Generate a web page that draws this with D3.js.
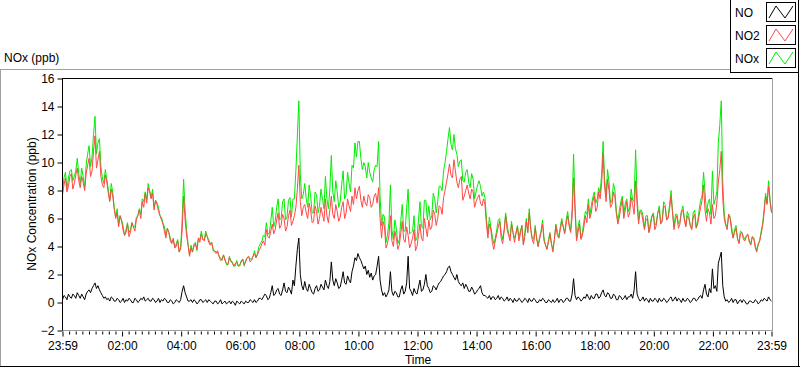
<!DOCTYPE html>
<html>
<head>
<meta charset="utf-8">
<script src="https://cdn.jsdelivr.net/npm/d3@7"></script>
<style>
  html, body { margin: 0; padding: 0; background: #fff; }
  svg { display: block; }
  text { font-family: "Liberation Sans", Arial, sans-serif; font-size: 12px; fill: #000; }
</style>
</head>
<body>
<svg id="chart" width="800" height="369"></svg>
<script>
// ---- data (3-minute samples, from 23:59 to 23:59 next day) ----
const sampleMinutes = 3;
const seriesNames = ["NO", "NO2", "NOx"];
const seriesColors = ["#000000", "#ff4848", "#00ee00"];
const yTicks = [-2, 0, 2, 4, 6, 8, 10, 12, 14, 16];
const xTickLabels = ["23:59", "02:00", "04:00", "06:00", "08:00", "10:00", "12:00", "14:00", "16:00", "18:00", "20:00", "22:00", "23:59"];

const NO2 = [
 7.7,8.4, 8.9,7.9, 8.3,9.0, 9.2,8.1, 8.5,9.1, 9.6,8.7, 8.2,9.0, 8.6,8.0, 9.2,9.8, 10.3,9.0,
 9.4,10.8, 11.9,9.6, 10.2,10.8, 9.0,8.4, 8.2,9.1, 8.6,7.8, 7.2,8.1, 7.6,6.7, 6.0,6.4, 5.4,6.2,
 5.8,5.2, 4.8,5.0, 5.6,4.7, 5.0,5.7, 5.4,5.1, 5.9,6.2, 6.6,6.0, 7.2,6.8, 7.8,7.1, 8.2,7.9,
 7.4,7.8, 6.6,7.3, 7.0,6.5, 6.2,5.9, 5.6,5.1, 4.6,5.3, 5.0,4.4, 4.2,4.6, 3.9,4.0, 4.4,3.6,
 3.8,5.1, 7.6,5.9, 4.8,4.1, 3.3,3.9, 3.6,4.0, 4.2,3.8, 4.6,4.3, 4.9,4.5, 4.4,4.9, 4.7,4.3,
 4.1,4.3, 3.8,3.6, 3.5,3.7, 3.3,3.0, 3.1,3.4, 3.0,2.8, 2.7,3.2, 3.0,2.8, 2.6,2.8, 2.9,2.6,
 2.7,2.9, 3.1,2.7, 2.9,3.2, 3.3,2.9, 3.0,3.3, 3.5,3.2, 3.4,3.7, 3.9,4.2, 4.4,4.1, 5.2,4.7,
 4.6,5.1, 5.6,4.9, 5.2,5.9, 6.4,5.3, 5.5,6.3, 6.0,5.1, 5.4,6.2, 6.6,5.5, 5.8,6.2, 6.8,8.1,
 9.8,7.2, 6.2,6.8, 7.0,6.4, 6.0,7.1, 6.6,5.7, 5.8,6.9, 6.5,5.6, 6.0,6.8, 6.3,5.8, 7.4,6.2,
 5.7,6.6, 7.6,6.3, 6.0,7.0, 6.5,5.8, 6.1,6.8, 7.2,6.0, 6.4,7.4, 6.9,6.5, 7.6,7.0, 8.2,7.4,
 8.0,8.3, 7.3,6.8, 7.6,7.1, 6.9,7.7, 7.5,6.8, 7.0,7.6, 7.8,7.1, 8.2,6.0, 4.6,5.8, 5.4,3.9,
 4.2,4.8, 6.2,4.4, 4.0,5.1, 4.6,3.8, 4.1,4.9, 5.8,4.5, 4.3,5.4, 4.8,3.9, 4.2,4.6, 5.2,3.7,
 4.0,4.8, 5.6,4.6, 4.4,6.0, 5.3,4.7, 5.9,5.2, 5.4,6.6, 6.3,5.5, 6.0,6.9, 6.8,6.3, 7.5,8.0,
 8.6,9.2, 9.9,9.1, 8.9,10.2, 9.4,8.6, 8.2,8.8, 9.0,7.3, 7.6,8.0, 8.4,7.8, 7.4,8.1, 7.9,6.8,
 7.2,7.5, 7.7,7.1, 6.9,7.4, 7.0,5.6, 4.6,5.6, 5.2,4.3, 3.8,4.4, 4.9,5.4, 5.8,4.6, 4.2,5.1,
 6.2,5.2, 4.8,4.4, 5.6,5.0, 4.3,4.9, 5.4,4.4, 4.9,5.5, 4.1,4.7, 5.8,5.0, 6.4,5.2, 4.5,4.2,
 5.3,4.6, 4.0,4.5, 5.0,5.6, 4.4,4.1, 3.8,4.3, 4.9,4.2, 3.6,4.5, 5.5,4.8, 4.6,5.2, 5.8,5.4,
 4.9,5.6, 6.2,5.5, 5.0,6.1, 8.9,6.5, 4.4,5.0, 5.6,4.5, 4.8,5.4, 6.2,5.7, 7.0,6.0, 6.4,7.2,
 7.6,6.5, 6.8,7.9, 7.4,8.5, 10.6,8.3, 7.2,8.8, 8.0,6.8, 7.0,7.9, 7.5,6.3, 5.6,6.1, 6.8,7.4,
 6.0,6.6, 7.2,6.1, 6.4,7.5, 7.0,6.3, 8.7,7.0, 5.6,6.5, 6.4,5.8, 5.2,5.9, 6.0,5.0, 5.4,6.1,
 6.3,5.2, 5.5,6.4, 6.6,5.6, 5.8,6.9, 6.8,5.9, 6.0,6.7, 7.6,6.4, 5.2,5.9, 6.2,5.3, 5.6,6.5,
 6.6,5.9, 5.4,6.2, 6.0,5.5, 5.2,6.1, 6.3,5.3, 5.6,6.2, 6.8,7.3, 8.4,6.6, 5.8,6.7, 6.4,5.6,
 7.0,6.0, 6.2,7.1, 8.6,9.5, 10.8,7.4, 6.0,5.5, 5.2,6.3, 6.0,5.1, 4.6,5.0, 5.3,4.6, 4.2,4.9,
 5.0,4.5, 4.4,4.8, 4.9,4.3, 4.1,4.7, 4.6,3.9, 3.6,4.2, 4.4,4.9, 5.5,6.4, 7.6,7.0, 8.3,7.2,
 6.4
];

const NO = [
 0.2,0.5, 0.4,0.2, 0.6,0.4, 0.3,0.6, 0.5,0.3, 0.7,0.5, 0.3,0.6, 0.4,0.2, 0.6,0.8, 0.9,0.7,
 1.0,1.2, 1.4,1.0, 1.2,0.9, 0.7,0.5, 0.3,0.4, 0.2,0.3, 0.1,0.4, 0.3,0.1, 0.1,0.3, 0.2,0.0,
 0.1,0.3, 0.0,0.2, 0.1,0.3, 0.2,0.0, 0.0,0.3, 0.2,0.0, 0.1,0.3, 0.2,0.4, 0.1,0.2, 0.3,0.1,
 0.1,0.3, 0.2,0.0, 0.1,0.3, 0.0,0.2, 0.1,0.3, 0.2,0.0, 0.0,0.2, 0.1,-0.1, 0.0,0.2, 0.1,0.0,
 0.2,0.8, 1.2,0.7, 0.4,0.1, 0.1,0.2, 0.0,0.2, 0.1,-0.1, 0.0,0.2, 0.2,0.0, 0.1,0.2, 0.0,0.2,
 0.1,0.0, -0.1,0.1, 0.1,-0.1, 0.0,0.2, -0.1,0.0, 0.1,-0.1, 0.0,0.1, -0.1,0.1, 0.0,-0.2, 0.1,0.0,
 -0.1,0.1, 0.0,-0.1, 0.1,0.0, 0.0,0.2, 0.1,0.0, 0.2,0.0, 0.1,0.3, 0.3,0.2, 0.4,0.6, 0.5,0.2,
 0.3,0.7, 1.2,0.5, 0.6,0.9, 1.0,0.6, 0.5,0.9, 1.4,0.8, 0.7,1.1, 0.9,0.6, 1.6,1.2, 2.6,3.8,
 4.6,2.0, 1.2,0.9, 1.5,1.0, 0.8,1.3, 1.0,0.7, 0.6,1.0, 1.2,0.8, 0.9,1.3, 1.1,0.9, 1.6,1.2,
 1.0,1.5, 2.9,1.6, 1.2,1.7, 1.4,1.0, 1.1,1.6, 2.2,1.4, 1.3,1.9, 1.6,1.4, 2.2,2.6, 3.2,3.0,
 3.5,3.2, 3.0,2.7, 2.4,2.6, 2.0,2.3, 1.8,2.1, 1.6,1.9, 2.0,2.6, 3.3,1.6, 0.9,0.5, 0.7,0.4,
 0.6,0.9, 2.2,0.8, 0.5,0.8, 0.7,0.4, 0.4,0.9, 1.2,0.6, 0.8,1.4, 3.3,1.0, 0.8,0.5, 1.0,0.7,
 0.6,1.1, 1.6,0.8, 0.9,1.3, 2.0,1.2, 1.0,0.7, 0.8,1.2, 1.1,0.9, 1.2,1.4, 1.5,1.7, 1.9,2.0,
 2.2,2.5, 2.6,2.2, 2.0,1.8, 1.6,2.0, 1.5,1.3, 1.2,1.4, 1.0,1.3, 1.1,0.8, 0.8,1.1, 0.9,0.6,
 0.7,0.9, 1.0,1.2, 0.7,0.5, 0.5,0.4, 0.3,0.5, 0.2,0.4, 0.4,0.2, 0.3,0.5, 0.2,0.4, 0.3,0.1,
 0.2,0.4, 0.1,0.3, 0.2,0.0, 0.3,0.1, 0.1,0.3, 0.2,0.0, 0.1,0.3, 0.2,0.0, 0.3,0.1, 0.1,0.3,
 0.2,0.0, 0.0,0.2, 0.1,0.3, 0.2,0.0, 0.0,0.2, 0.1,0.0, 0.2,0.0, 0.1,0.3, 0.0,0.2, 0.2,0.0,
 0.1,0.3, 0.3,0.1, 0.1,0.6, 1.7,0.5, 0.2,0.4, 0.3,0.1, 0.2,0.4, 0.3,0.6, 0.4,0.2, 0.5,0.3,
 0.3,0.6, 0.6,0.3, 0.4,0.7, 0.9,0.5, 0.4,0.7, 0.6,0.3, 0.3,0.6, 0.5,0.2, 0.2,0.5, 0.4,0.2,
 0.3,0.5, 0.2,0.4, 0.4,0.6, 0.3,0.9, 2.2,0.6, 0.3,0.1, 0.2,0.4, 0.1,0.3, 0.2,0.0, 0.3,0.1,
 0.1,0.3, 0.2,0.0, 0.3,0.1, 0.1,0.3, 0.2,0.0, 0.1,0.3, 0.4,0.1, 0.2,0.4, 0.1,0.3, 0.2,0.0,
 0.3,0.1, 0.1,0.3, 0.2,0.0, 0.1,0.3, 0.3,0.1, 0.2,0.4, 0.5,0.3, 0.9,1.3, 0.6,0.4, 1.0,0.7,
 2.4,1.0, 1.2,0.8, 2.8,3.2, 3.6,1.2, 0.4,0.1, 0.2,0.0, 0.1,0.3, 0.0,0.2, 0.2,-0.1, 0.1,0.2,
 0.0,0.2, 0.1,-0.1, -0.1,0.1, 0.1,0.0, 0.0,0.2, 0.1,-0.1, 0.0,0.2, 0.1,0.3, 0.2,0.1, 0.4,0.2,
 0.1
];

const NOx = [
 7.9,8.9, 9.3,8.1, 8.9,9.4, 9.5,8.7, 9.0,9.4, 10.3,9.2, 8.5,9.6, 9.0,8.2, 9.8,10.6, 11.2,9.7,
 10.4,12.0, 13.3,10.6, 11.4,11.7, 9.7,8.9, 8.5,9.5, 8.8,8.1, 7.3,8.5, 7.9,6.8, 6.1,6.7, 5.6,6.2,
 5.9,5.5, 4.8,5.2, 5.7,5.0, 5.2,5.7, 5.4,5.4, 6.1,6.2, 6.7,6.3, 7.4,7.2, 7.9,7.3, 8.5,8.0,
 7.5,8.1, 6.8,7.3, 7.1,6.8, 6.2,6.1, 5.7,5.4, 4.8,5.3, 5.0,4.6, 4.3,4.5, 3.9,4.2, 4.5,3.6,
 4.0,5.9, 8.8,6.6, 5.2,4.2, 3.4,4.1, 3.6,4.2, 4.3,3.7, 4.6,4.5, 5.1,4.5, 4.5,5.1, 4.7,4.5,
 4.2,4.3, 3.7,3.7, 3.6,3.6, 3.3,3.2, 3.0,3.4, 3.1,2.7, 2.7,3.3, 2.9,2.9, 2.6,2.6, 3.0,2.6,
 2.6,3.0, 3.1,2.6, 3.0,3.2, 3.3,3.1, 3.1,3.3, 3.7,3.2, 3.5,4.0, 4.2,4.4, 4.8,4.7, 5.7,4.9,
 4.9,5.8, 6.8,5.4, 5.8,6.8, 7.4,5.9, 6.0,7.2, 7.4,5.9, 6.1,7.3, 7.5,6.1, 7.4,7.4, 9.4,11.9,
 14.4,9.2, 7.4,7.7, 8.5,7.4, 6.8,8.4, 7.6,6.4, 6.4,7.9, 7.7,6.4, 6.9,8.1, 7.4,6.7, 9.0,7.4,
 6.7,8.1, 10.5,7.9, 7.2,8.7, 7.9,6.8, 7.2,8.4, 9.4,7.4, 7.7,9.3, 8.5,7.9, 9.8,9.6, 11.4,10.4,
 11.5,11.5, 10.3,9.5, 10.0,9.7, 8.9,10.0, 9.3,8.9, 8.6,9.5, 9.8,9.7, 11.5,7.6, 5.5,6.3, 6.1,4.3,
 4.8,5.7, 8.4,5.2, 4.5,5.9, 5.3,4.2, 4.5,5.8, 7.0,5.1, 5.1,6.8, 8.1,4.9, 5.0,5.1, 6.2,4.4,
 4.6,5.9, 7.2,5.4, 5.3,7.3, 7.3,5.9, 6.9,5.9, 6.2,7.8, 7.4,6.4, 7.2,8.3, 8.3,8.0, 9.4,10.0,
 10.8,11.7, 12.5,11.3, 10.9,12.0, 11.0,10.6, 9.7,10.1, 10.2,8.7, 8.6,9.3, 9.5,8.6, 8.2,9.2, 8.8,7.4,
 7.9,8.4, 8.7,8.3, 7.6,7.9, 7.5,6.0, 4.9,6.1, 5.4,4.7, 4.2,4.6, 5.2,5.9, 6.0,5.0, 4.5,5.2,
 6.4,5.6, 4.9,4.7, 5.8,5.0, 4.6,5.0, 5.5,4.7, 5.1,5.5, 4.2,5.0, 6.0,5.0, 6.7,5.3, 4.6,4.5,
 5.5,4.6, 4.0,4.7, 5.1,5.9, 4.6,4.1, 3.8,4.5, 5.0,4.2, 3.8,4.5, 5.6,5.1, 4.6,5.4, 6.0,5.4,
 5.0,5.9, 6.5,5.6, 5.1,6.7, 10.6,7.0, 4.6,5.4, 5.9,4.6, 5.0,5.8, 6.5,6.3, 7.4,6.2, 6.9,7.5,
 7.9,7.1, 7.4,8.2, 7.8,9.2, 11.5,8.8, 7.6,9.5, 8.6,7.1, 7.3,8.5, 8.0,6.5, 5.8,6.6, 7.2,7.6,
 6.3,7.1, 7.4,6.5, 6.8,8.1, 7.3,7.2, 10.9,7.6, 5.9,6.6, 6.6,6.2, 5.3,6.2, 6.2,5.0, 5.7,6.2,
 6.4,5.5, 5.7,6.4, 6.9,5.7, 5.9,7.2, 7.0,5.9, 6.1,7.0, 8.0,6.5, 5.4,6.3, 6.3,5.6, 5.8,6.5,
 6.9,6.0, 5.5,6.5, 6.2,5.5, 5.3,6.4, 6.6,5.4, 5.8,6.6, 7.3,7.6, 9.3,7.9, 6.4,7.1, 7.4,6.3,
 9.4,7.0, 7.4,7.9, 11.4,12.7, 14.4,8.6, 6.4,5.6, 5.4,6.3, 6.1,5.4, 4.6,5.2, 5.5,4.5, 4.3,5.1,
 5.0,4.7, 4.5,4.7, 4.8,4.4, 4.2,4.7, 4.6,4.1, 3.7,4.1, 4.4,5.1, 5.6,6.7, 7.8,7.1, 8.7,7.4,
 6.5
];

// ---- layout ----
const svg = d3.select("#chart");
const L = 62, R = 772, T = 78, B = 330;

const start = new Date(2020, 0, 1, 23, 59);
const end = new Date(2020, 0, 2, 23, 59);
const timeOf = i => new Date(start.getTime() + i * sampleMinutes * 60000);

const x = d3.scaleTime().domain([start, end]).range([L, R - 1]);
const y = d3.scaleLinear().domain([-2, 16]).range([B, T]);

// outer frame
svg.append("line").attr("x1", 0).attr("x2", 730).attr("y1", 69.5).attr("y2", 69.5).attr("stroke", "#a0a0a0");
svg.append("line").attr("x1", 0.5).attr("x2", 0.5).attr("y1", 69).attr("y2", 367).attr("stroke", "#a0a0a0");
svg.append("line").attr("x1", 0).attr("x2", 800).attr("y1", 366.5).attr("y2", 366.5).attr("stroke", "#000");
svg.append("line").attr("x1", 798.5).attr("x2", 798.5).attr("y1", 0).attr("y2", 367).attr("stroke", "#000");

// title
svg.append("text").attr("x", 4).attr("y", 62).text("NOx (ppb)");

// major tick times for x axis
const majorTimes = xTickLabels.map((lab, k) => {
  if (k === 0) return start;
  if (k === xTickLabels.length - 1) return end;
  const [h, m] = lab.split(":").map(Number);
  return new Date(2020, 0, 2, h, m);
});
const minorTimes = [];
for (let k = 0; k < majorTimes.length - 1; k++) {
  const a = majorTimes[k].getTime(), b = majorTimes[k + 1].getTime();
  for (let j = 1; j < 9; j++) minorTimes.push(new Date(a + (b - a) * j / 9));
}

// x axis
const xAxisMinor = svg.append("g").attr("transform", `translate(0.5,${B + 0.5})`)
  .call(d3.axisBottom(x).tickValues(minorTimes).tickSize(4).tickFormat(""));
xAxisMinor.select(".domain").remove();
xAxisMinor.selectAll("line").attr("stroke", "#000").attr("y1", 1);

const xAxis = svg.append("g").attr("transform", `translate(0.5,${B + 0.5})`)
  .call(d3.axisBottom(x).tickValues(majorTimes).tickSize(6).tickFormat((d, i) => xTickLabels[i]).tickPadding(3));
xAxis.select(".domain").attr("stroke", "#a0a0a0").attr("d", `M${L - 0.5},0H${R}`);
xAxis.selectAll("line").attr("stroke", "#000").attr("y1", 1);
xAxis.selectAll("text").attr("font-size", 12).attr("font-family", '"Liberation Sans", Arial, sans-serif').attr("fill", "#000").attr("dy", "0.85em");

// y axis
const yAxis = svg.append("g").attr("transform", `translate(${L + 0.5},0.5)`)
  .call(d3.axisLeft(y).tickValues(yTicks).tickSize(5).tickPadding(3));
yAxis.select(".domain").attr("stroke", "#000").attr("d", `M0,${T - 0.5}V${B}`);
yAxis.selectAll("line").attr("stroke", "#000");
yAxis.selectAll("text").attr("font-size", 12).attr("font-family", '"Liberation Sans", Arial, sans-serif').attr("fill", "#000").attr("dy", "0.36em");

// plot frame top/right
svg.append("line").attr("x1", L).attr("x2", R + 1).attr("y1", T + 0.5).attr("y2", T + 0.5).attr("stroke", "#000");
svg.append("line").attr("x1", R + 0.5).attr("x2", R + 0.5).attr("y1", T).attr("y2", B + 1).attr("stroke", "#a0a0a0");

// axis titles
svg.append("text").attr("x", 418).attr("y", 364).attr("text-anchor", "middle").text("Time");
svg.append("text").attr("transform", "translate(36,204) rotate(-90)").attr("text-anchor", "middle").text("NOx Concentration (ppb)");

// clip
svg.append("clipPath").attr("id", "plotclip").append("rect")
  .attr("x", L + 1).attr("y", T + 1).attr("width", R - L - 1).attr("height", B - T - 1);

const line = d3.line().x((d, i) => x(timeOf(i))).y(d => y(d)).curve(d3.curveLinear);
const plot = svg.append("g").attr("clip-path", "url(#plotclip)");
[[NOx, seriesColors[2]], [NO2, seriesColors[1]], [NO, seriesColors[0]]].forEach(([data, col]) => {
  plot.append("path").datum(data).attr("d", line).attr("fill", "none")
    .attr("stroke", col).attr("stroke-width", 1).attr("transform", "translate(0.5,0.5)");
});

// legend
const lg = svg.append("g");
lg.append("rect").attr("x", 730.5).attr("y", -1).attr("width", 68).attr("height", 73.5).attr("fill", "#fff").attr("stroke", "#000");
seriesNames.forEach((name, k) => {
  const y0 = 2 + k * 23;
  lg.append("text").attr("x", 735).attr("y", y0 + 15).text(name);
  lg.append("rect").attr("x", 766.5).attr("y", y0 + 0.5).attr("width", 29).attr("height", 19)
    .attr("fill", "#fff").attr("stroke", "#000");
  lg.append("path").attr("d", `M769,${y0 + 16} L776,${y0 + 4} L785,${y0 + 16} L793,${y0 + 4}`)
    .attr("fill", "none").attr("stroke", seriesColors[k]).attr("stroke-width", 1);
});
</script>
</body>
</html>
